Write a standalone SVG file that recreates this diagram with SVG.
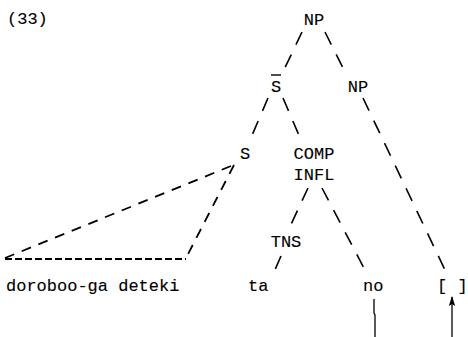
<svg xmlns="http://www.w3.org/2000/svg" width="468" height="337" viewBox="0 0 468 337">
  <style>
    text { font-family: "Liberation Mono", "DejaVu Sans Mono", monospace; font-size: 17px; fill: #000; stroke: #000; stroke-width: 0.12; }
    .lab { text-anchor: middle; }
    .br { stroke: #000; stroke-width: 1.6; fill: none; stroke-dasharray: 14 11; }
    .tri { stroke: #000; stroke-width: 1.8; fill: none; stroke-dasharray: 10 8; }
    .base { stroke: #000; stroke-width: 1.8; fill: none; stroke-dasharray: 7 3; }
    .solid { stroke: #000; stroke-width: 1.3; fill: none; }
  </style>
  <defs>
    <marker id="head" markerWidth="10" markerHeight="8" refX="9" refY="4" orient="auto" markerUnits="userSpaceOnUse" viewBox="0 0 10 8">
      <path d="M10 4 L0 0.8 L2 4 L0 7.2 Z" fill="#000"/>
    </marker>
  </defs>

  <text x="7" y="24">(33)</text>

  <g id="np-top"><text class="lab" x="314" y="25">NP</text></g>
  <g id="sbar">
    <text class="lab" x="276" y="92">S</text>
    <line x1="271" y1="75" x2="281" y2="75" stroke="#000" stroke-width="1.4"/>
  </g>
  <g id="np-head"><text class="lab" x="358" y="92">NP</text></g>
  <g id="s"><text class="lab" x="245" y="159">S</text></g>
  <g id="comp"><text class="lab" x="314" y="159">COMP</text></g>
  <g id="infl"><text class="lab" x="314" y="180">INFL</text></g>
  <g id="tns"><text class="lab" x="286" y="247">TNS</text></g>
  <g id="w-clause"><text x="6" y="291">doroboo-ga deteki</text></g>
  <g id="w-ta"><text x="248" y="291">ta</text></g>
  <g id="w-no"><text x="363" y="291">no</text></g>
  <g id="w-gap"><text x="437" y="291">[ ]</text></g>

  <g id="connectors">
    <line class="br" x1="302" y1="32" x2="282" y2="74"/>
    <line class="br" x1="325" y1="32" x2="346" y2="74"/>
    <line class="br" x1="268" y1="98" x2="250" y2="140"/>
    <line class="br" x1="283" y1="98" x2="301" y2="140"/>
    <line class="br" x1="363" y1="98" x2="445" y2="270"/>
    <line class="br" x1="308" y1="188" x2="287" y2="233"/>
    <line class="br" x1="322" y1="188" x2="366" y2="272"/>
    <line class="br" x1="281" y1="256" x2="274" y2="272"/>
    <!-- triangle over the embedded clause -->
    <line class="tri" x1="5" y1="258" x2="231" y2="166"/>
    <line class="tri" x1="234" y1="165" x2="186" y2="258"/>
    <line class="base" x1="5" y1="259" x2="186" y2="259"/>
    <!-- movement link -->
    <polyline class="solid" points="374,299 374,313 375,315 375,337"/>
    <line class="solid" x1="452" y1="337" x2="452" y2="297" marker-end="url(#head)"/>
  </g>
</svg>
